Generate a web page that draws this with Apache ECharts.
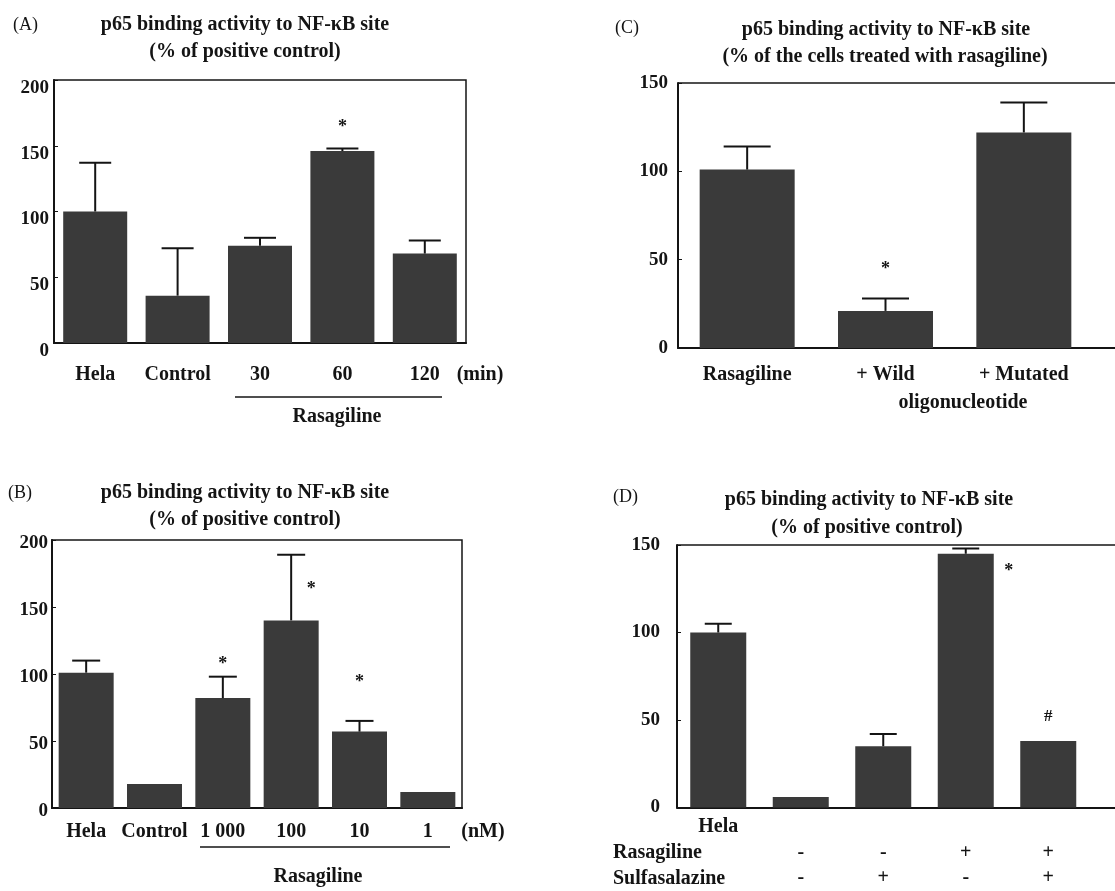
<!DOCTYPE html>
<html><head><meta charset="utf-8">
<script src="https://cdn.jsdelivr.net/npm/echarts@6/dist/echarts.min.js"></script>
<style>html,body{margin:0;padding:0;background:#fff}#c{width:1115px;height:891px}</style>
</head><body><div id="c"></div>
<script>
// ---- Panel A ----
const catsA = ['Hela', 'Control', '30', '60', '120'];
const valsA = [100, 36, 74, 146, 68];
const errTopA = [137, 72, 80, 148, 78];
const sigA = ['', '', '', '*', ''];
const sigValA = [null, null, null, 167, null];
// ---- Panel B ----
const catsB = ['Hela', 'Control', '1 000', '100', '10', '1'];
const valsB = [101, 18, 82, 140, 57, 12];
const errTopB = [110, null, 98, 189, 65, null];
const sigB = ['', '', '*', '*', '*', ''];
const sigValB = [null, null, 110, 166, 97, null];
// ---- Panel C ----
const catsC = ['Rasagiline', '+ Wild', '+ Mutated'];
const valsC = [101, 21, 122];
const errTopC = [114, 28, 139];
const sigC = ['', '*', ''];
const sigValC = [null, 47, null];
// ---- Panel D ----
const catsD = ['Hela', '', '', '', ''];
const rasagilineD = ['', '-', '-', '+', '+'];
const sulfasalazineD = ['', '-', '+', '-', '+'];
const valsD = [100, 6, 35, 145, 38];
const errTopD = [105, null, 42, 148, null];
const sigD = ['', '', '', '*', '#'];
const sigValD = [null, null, null, 137, 52];
// tick values
const ticksAB = [0, 50, 100, 150, 200];
const ticksCD = [0, 50, 100, 150];

const FONT = '"Liberation Serif","Times New Roman",serif';
const INK = '#141414';
const BAR = '#3a3a3a';

const chart = echarts.init(document.getElementById('c'), null, {renderer: 'canvas'});

const grids = [
  {left: 54, top: 80, width: 412, height: 263, show: true, borderColor: INK, borderWidth: 1.5},   // A
  {left: 52, top: 540, width: 410, height: 268, show: true, borderColor: INK, borderWidth: 1.5},  // B
  {left: 678, top: 83, width: 415, height: 265},                                                    // C
  {left: 677, top: 545, width: 412.5, height: 263}                                                  // D
];

function xAx(gi, cats, margin, fs, extra) {
  return Object.assign({
    type: 'category', gridIndex: gi, data: cats,
    axisLine: {show: true, lineStyle: {color: INK, width: 2}},
    axisTick: {show: false},
    axisLabel: {interval: 0, margin: margin, color: INK, fontFamily: FONT, fontWeight: 'bold', fontSize: fs}
  }, extra || {});
}
function yAx(gi, ticks, margin, va, lh) {
  const mx = ticks[ticks.length - 1];
  return {
    type: 'value', gridIndex: gi, min: 0, max: mx, interval: 50,
    axisLine: {show: true, lineStyle: {color: INK, width: 2}},
    axisTick: {show: true, inside: true, length: 4, lineStyle: {color: INK}},
    splitLine: {show: false},
    axisLabel: {margin: margin, color: INK, fontFamily: FONT, fontWeight: 'bold', fontSize: 19,
      verticalAlign: va, lineHeight: lh}
  };
}

const xAxes = [
  xAx(0, catsA, 22, 20),
  xAx(1, catsB, 14, 20),
  xAx(2, catsC, 17, 20),
  xAx(3, catsD.map((c, i) => c + '\n' + rasagilineD[i] + '\n' + sulfasalazineD[i]), 7, 20,
      {axisLabel: {interval: 0, margin: 7, color: INK, fontFamily: FONT, fontWeight: 'bold', fontSize: 20, lineHeight: 25.5}})
];
const yAxes = [
  yAx(0, ticksAB, 5, 'top', 16),
  yAx(1, ticksAB, 4, 'top', 6),
  yAx(2, ticksCD, 10, 'middle', 19),
  yAx(3, ticksCD, 17, 'middle', 19)
];

function barSeries(ai, vals, w) {
  return {type: 'bar', xAxisIndex: ai, yAxisIndex: ai, data: vals, barWidth: w,
    itemStyle: {color: BAR}, z: 2, silent: true};
}
function errSeries(ai, vals, tops, capW) {
  const data = [];
  tops.forEach((t, i) => { if (t != null) data.push([i, vals[i], t]); });
  return {
    type: 'custom', xAxisIndex: ai, yAxisIndex: ai, data: data, z: 3, silent: true,
    encode: {x: 0, y: [1, 2]},
    renderItem: function (params, api) {
      const p0 = api.coord([api.value(0), api.value(1)]);
      const p1 = api.coord([api.value(0), api.value(2)]);
      return {type: 'group', children: [
        {type: 'line', shape: {x1: p0[0], y1: p0[1], x2: p1[0], y2: p1[1]}, style: {stroke: INK, lineWidth: 2}},
        {type: 'line', shape: {x1: p1[0] - capW / 2, y1: p1[1], x2: p1[0] + capW / 2, y2: p1[1]}, style: {stroke: INK, lineWidth: 2}}
      ]};
    }
  };
}
function sigSeries(ai, sig, sigVal, dxMap) {
  const data = [];
  sig.forEach((s, i) => { if (s) data.push([i, sigVal[i], s]); });
  return {
    type: 'custom', xAxisIndex: ai, yAxisIndex: ai, data: data, z: 4, silent: true,
    encode: {x: 0, y: 1},
    renderItem: function (params, api) {
      const idx = api.value(0);
      const p = api.coord([idx, api.value(1)]);
      const t = data[params.dataIndex][2];
      const dx = (dxMap && dxMap[idx]) || 0;
      const isStar = t === '*';
      return {type: 'text', x: p[0] + dx, y: p[1] + (isStar ? 4 : 0),
        style: {text: t, fontFamily: FONT, fontWeight: 'bold', fontSize: isStar ? 18 : 17,
          fill: INK, align: 'center', verticalAlign: 'middle'}};
    }
  };
}

const series = [
  barSeries(0, valsA, 64), errSeries(0, valsA, errTopA, 32), sigSeries(0, sigA, sigValA),
  barSeries(1, valsB, 55), errSeries(1, valsB, errTopB, 28), sigSeries(1, sigB, sigValB, {3: 20}),
  barSeries(2, valsC, 95), errSeries(2, valsC, errTopC, 47), sigSeries(2, sigC, sigValC),
  barSeries(3, valsD, 56), errSeries(3, valsD, errTopD, 27), sigSeries(3, sigD, sigValD, {3: 43})
];

function txt(x, y, s, opt) {
  opt = opt || {};
  return {type: 'text', x: x, y: y, silent: true,
    style: {text: s, fontFamily: FONT, fontWeight: opt.w || 'bold', fontSize: opt.fs || 20,
      fill: INK, align: opt.align || 'center', verticalAlign: 'middle'}};
}
function hline(x1, x2, y, w) {
  return {type: 'line', silent: true, shape: {x1: x1, y1: y, x2: x2, y2: y}, style: {stroke: INK, lineWidth: w || 1.5}};
}

const graphic = [
  // A
  txt(13, 25, '(A)', {w: 'normal', fs: 18, align: 'left'}),
  txt(245, 25, 'p65 binding activity to NF-\u03baB site'),
  txt(245, 52, '(% of positive control)'),
  txt(480, 375, '(min)'),
  hline(235, 442, 397),
  txt(337, 417, 'Rasagiline'),
  // B
  txt(8, 493, '(B)', {w: 'normal', fs: 18, align: 'left'}),
  txt(245, 493, 'p65 binding activity to NF-\u03baB site'),
  txt(245, 520, '(% of positive control)'),
  txt(483, 832, '(nM)'),
  hline(200, 450, 847),
  txt(318, 877, 'Rasagiline'),
  // C (frame continues past the right edge of the picture)
  hline(678, 1115, 83),
  hline(1092, 1115, 348, 2),
  txt(615, 28, '(C)', {w: 'normal', fs: 18, align: 'left'}),
  txt(886, 30, 'p65 binding activity to NF-\u03baB site'),
  txt(885, 57, '(% of the cells treated with rasagiline)'),
  txt(963, 403, 'oligonucleotide'),
  // D
  hline(677, 1115, 545),
  hline(1089, 1115, 808, 2),
  txt(613, 497, '(D)', {w: 'normal', fs: 18, align: 'left'}),
  txt(869, 500, 'p65 binding activity to NF-\u03baB site'),
  txt(867, 528, '(% of positive control)'),
  txt(613, 853, 'Rasagiline', {align: 'left'}),
  txt(613, 879, 'Sulfasalazine', {align: 'left'})
];

chart.setOption({
  animation: false,
  backgroundColor: '#fff',
  grid: grids, xAxis: xAxes, yAxis: yAxes, series: series, graphic: graphic
});
</script></body></html>
